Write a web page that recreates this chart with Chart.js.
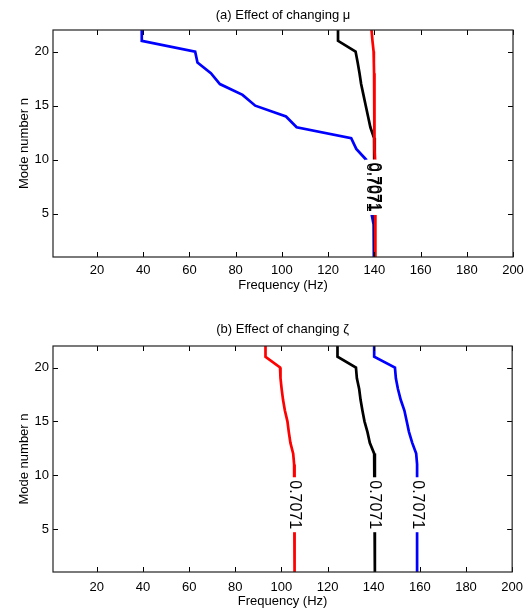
<!DOCTYPE html>
<html>
<head>
<meta charset="utf-8">
<script src="https://cdn.jsdelivr.net/npm/chart.js@4"></script>
<style>
  html, body { margin: 0; padding: 0; background: #fff; }
  #wrap { position: relative; width: 531px; height: 609px; }
  #chartA, #chartB { position: absolute; left: 0; }
  #chartA { top: 0; }
  #chartB { top: 305px; }
</style>
</head>
<body>
<div id="wrap">
  <canvas id="chartA" width="531" height="305"></canvas>
  <canvas id="chartB" width="531" height="304"></canvas>
</div>
<script>
const modeN = [22, 21, 20, 19, 18, 17, 16, 15, 14, 13, 12, 11, 10, 9, 8, 7, 6, 5, 4, 3, 2, 1];
const freqTicks = [20, 40, 60, 80, 100, 120, 140, 160, 180, 200];
const modeTicks = [5, 10, 15, 20];
const contourLevel = '0.7071';

// (a) changing mu
const muBlue = [39.4, 39.4, 62.5, 63.5, 69.3, 73.2, 83.0, 88.5, 101.8, 106.4, 130.0, 132.2,
  136.5, 137.2, 137.7, 138.1, 138.5, 138.8, 139.7, 139.8, 139.8, 139.8];
const muBlack = [124.3, 124.3, 131.9, 132.8, 133.6, 134.3, 135.3, 136.3, 137.3, 138.3, 139.9, 140.1,
  140.2, 140.2, 140.2, 140.2, 140.2, 140.2, 140.2, 140.2, 140.2, 140.2];
const muRed = [138.8, 139.2, 139.7, 139.8, 139.9, 139.9, 140.0, 140.0, 140.1, 140.1, 140.2, 140.2,
  140.3, 140.3, 140.4, 140.4, 140.4, 140.5, 140.5, 140.5, 140.5, 140.5];

// (b) changing zeta
const zetaRed = [93.1, 93.1, 99.4, 99.6, 100.1, 100.7, 101.5, 102.6, 103.2, 103.9, 105.1, 105.5,
  105.7, 105.7, 105.7, 105.7, 105.7, 105.7, 105.7, 105.7, 105.7, 105.7];
const zetaBlack = [124.3, 124.3, 132.3, 132.7, 133.7, 134.3, 135.1, 136.0, 137.3, 138.3, 140.2, 140.5,
  140.5, 140.5, 140.5, 140.5, 140.5, 140.5, 140.5, 140.5, 140.5, 140.5];
const zetaBlue = [140.2, 140.2, 149.2, 149.6, 150.5, 151.7, 153.3, 154.3, 155.3, 156.7, 158.4, 158.8,
  158.8, 158.8, 158.8, 158.8, 158.8, 158.8, 158.8, 158.8, 158.8, 158.8];

// where the contour labels sit (data units)
const muLabelN = 7.45;
const muLabelFreq = [138.9, 139.6, 140.1];
const zetaLabelN = 7.25;
const zetaLabelFreq = [105.7, 140.5, 158.8];

const FONT = '"Liberation Sans", Arial, Helvetica, sans-serif';

function toPoints(freqs) {
  return freqs.map((f, i) => ({ x: f, y: modeN[i] }));
}

function lineSet(freqs, color) {
  return {
    data: toPoints(freqs),
    borderColor: color,
    backgroundColor: color,
    borderWidth: 2.7,
    pointRadius: 0,
    tension: 0,
    fill: false,
  };
}

// matlab-like frame: closed box, inward ticks, contour labels, title
const framePlugin = {
  id: 'frame',
  afterDatasetsDraw(chart, args, opts) {
    const { ctx, chartArea, scales } = chart;
    const { left, right, top, bottom } = chartArea;
    const x = scales.x;
    const y = scales.y;
    ctx.save();

    ctx.font = `16px ${FONT}`;
    const w = ctx.measureText(contourLevel).width;
    const py = y.getPixelForValue(opts.labelN);
    ctx.fillStyle = '#fff';
    opts.labelFreq.forEach((f) => {
      const px = x.getPixelForValue(f);
      ctx.fillRect(px - 7, py - w / 2 - 3, 14, w + 6);
    });
    ctx.fillStyle = '#000';
    ctx.textAlign = 'center';
    ctx.textBaseline = 'middle';
    opts.labelFreq.forEach((f) => {
      const px = x.getPixelForValue(f);
      ctx.save();
      ctx.translate(px, py);
      ctx.rotate(Math.PI / 2);
      ctx.fillText(contourLevel, 0, 0);
      ctx.restore();
    });

    ctx.strokeStyle = '#000';
    ctx.lineWidth = 1;
    ctx.beginPath();
    freqTicks.forEach((v) => {
      const px = Math.round(x.getPixelForValue(v)) + 0.5;
      ctx.moveTo(px, bottom);
      ctx.lineTo(px, bottom - 5);
      ctx.moveTo(px, top);
      ctx.lineTo(px, top + 5);
    });
    modeTicks.forEach((v) => {
      const py2 = Math.round(y.getPixelForValue(v)) + 0.5;
      ctx.moveTo(left, py2);
      ctx.lineTo(left + 5, py2);
      ctx.moveTo(right, py2);
      ctx.lineTo(right - 5, py2);
    });
    ctx.stroke();
    ctx.lineWidth = 1.2;
    ctx.strokeStyle = '#222';
    ctx.strokeRect(left, top, right - left, bottom - top);

    ctx.font = `13px ${FONT}`;
    ctx.fillStyle = '#000';
    ctx.textAlign = 'center';
    ctx.textBaseline = 'middle';
    ctx.fillText(opts.title, (left + right) / 2, opts.titleY);
    ctx.restore();
  },
};

function makeChart(id, datasets, cfg) {
  return new Chart(document.getElementById(id), {
    type: 'line',
    data: { datasets },
    plugins: [framePlugin],
    options: {
      responsive: false,
      animation: false,
      layout: { padding: { top: cfg.padTop, right: 18, bottom: 0, left: 0 } },
      plugins: {
        legend: { display: false },
        tooltip: { enabled: false },
        frame: {
          title: cfg.title,
          titleY: cfg.titleY,
          labelN: cfg.labelN,
          labelFreq: cfg.labelFreq,
        },
      },
      scales: {
        x: {
          type: 'linear',
          min: 1,
          max: 200,
          afterBuildTicks(scale) {
            scale.ticks = freqTicks.map((v) => ({ value: v }));
          },
          afterFit(scale) {
            scale.height = cfg.xHeight;
          },
          grid: { display: false, drawTicks: false },
          border: { display: false },
          ticks: {
            color: '#000',
            font: { family: FONT, size: 13 },
            padding: cfg.xTickPad,
            maxRotation: 0,
            autoSkip: false,
          },
          title: {
            display: true,
            text: 'Frequency (Hz)',
            color: '#000',
            font: { family: FONT, size: 13 },
            padding: { top: 0, bottom: cfg.xTitlePad },
          },
        },
        y: {
          type: 'linear',
          min: 1,
          max: 22,
          afterBuildTicks(scale) {
            scale.ticks = modeTicks.map((v) => ({ value: v }));
          },
          afterFit(scale) {
            scale.width = 53;
          },
          grid: { display: false, drawTicks: false },
          border: { display: false },
          ticks: {
            color: '#000',
            font: { family: FONT, size: 13 },
            padding: 4,
          },
          title: {
            display: true,
            text: 'Mode number n',
            color: '#000',
            font: { family: FONT, size: 13 },
            padding: { top: 17, bottom: 0 },
          },
        },
      },
    },
  });
}

makeChart('chartA', [lineSet(muRed, '#ff0000'), lineSet(muBlack, '#000000'), lineSet(muBlue, '#0000ff')], {
  padTop: 30,
  xHeight: 48,
  xTickPad: 6,
  xTitlePad: 11.5,
  title: '(a) Effect of changing \u03bc',
  titleY: 15,
  labelN: muLabelN,
  labelFreq: muLabelFreq,
});

makeChart('chartB', [lineSet(zetaRed, '#ff0000'), lineSet(zetaBlack, '#000000'), lineSet(zetaBlue, '#0000ff')], {
  padTop: 41,
  xHeight: 37,
  xTickPad: 8,
  xTitlePad: 0,
  title: '(b) Effect of changing \u03b6',
  titleY: 24,
  labelN: zetaLabelN,
  labelFreq: zetaLabelFreq,
});
</script>
</body>
</html>
